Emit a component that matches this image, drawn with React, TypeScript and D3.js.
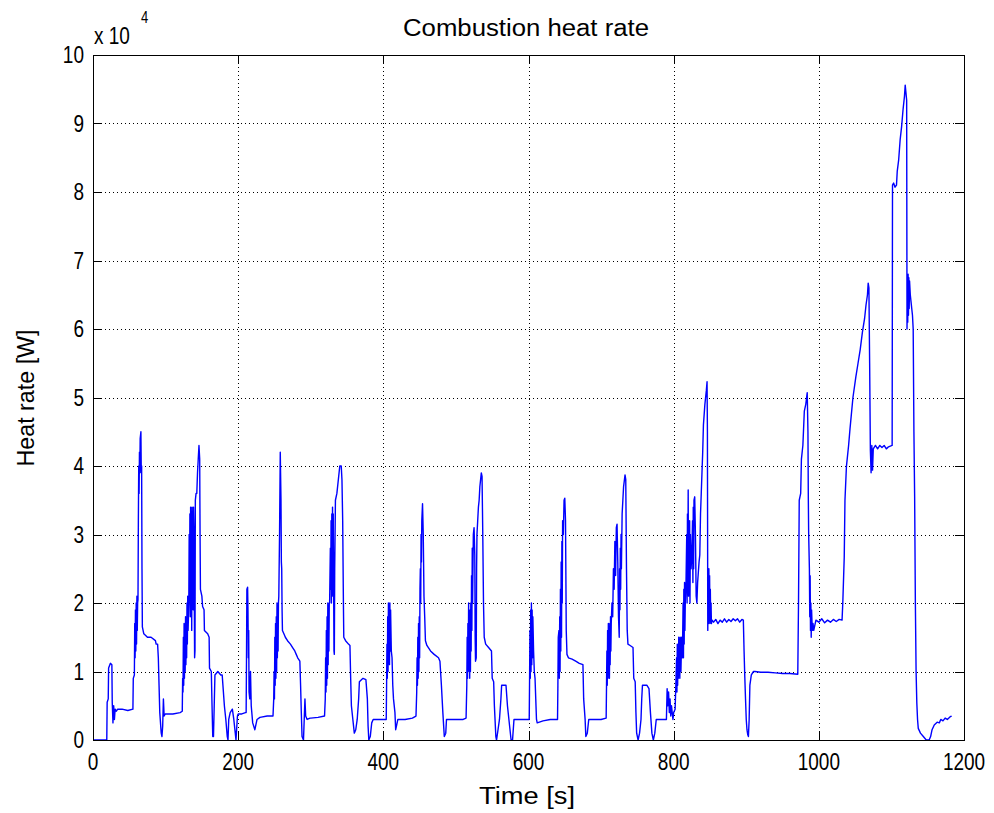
import React from 'react';
import * as d3 from 'd3';

const W = 994;
const H = 813;
const M = { left: 93, top: 55, right: 964, bottom: 740 };

const xTicks = [0, 200, 400, 600, 800, 1000, 1200];
const yTicks = [0, 1, 2, 3, 4, 5, 6, 7, 8, 9, 10];
const titleText = 'Combustion heat rate';
const xLabel = 'Time [s]';
const yLabel = 'Heat rate [W]';

// [time s, heat rate x 1e4 W]
const seg0: [number, number][] = [
  [0, 0], [19, 0], [19.5, 0.55], [21, 0.6], [21.5, 1.05], [24, 1.12], [26, 1.1], [26.5, 0.55], [27.5, 0.25],
  [28.5, 0.5], [29.5, 0.3], [30.5, 0.45], [32, 0.42], [34, 0.45], [40, 0.45], [48, 0.43], [55, 0.45],
  [55.5, 0.9], [57, 0.95], [57.5, 1.7], [58, 1.2], [58.5, 1.9], [59, 1.3], [59.5, 2.0], [60, 1.4], [60.5, 2.1],
  [61, 1.6], [61.5, 2.0], [62, 2.05], [62.5, 3.2], [63, 4.0], [63.5, 3.6], [64, 4.2], [64.5, 3.9], [65, 4.4],
  [66, 4.5], [66.5, 3.9], [67, 4.0], [67.5, 2.5], [68, 1.65], [70, 1.55], [75, 1.5], [80, 1.5], [86, 1.45],
  [87, 1.4], [89, 1.4], [90, 1.2], [91, 0.8], [92, 0.4], [94, 0.1], [95, 0.05], [96, 0.2], [97, 0.6],
  [98, 0.35], [99.5, 0.38],
];
const seg1: [number, number][] = [
  [100, 0.38], [110, 0.38], [120, 0.4], [123, 0.42], [123.5, 0.9], [124, 0.7], [124.5, 1.5], [125, 0.8],
  [125.5, 1.7], [126, 0.9], [126.5, 1.6], [127, 1.0], [127.5, 1.8], [128, 1.1], [128.5, 1.7], [129, 1.2],
  [129.5, 2.0], [130, 1.4], [130.5, 2.1], [131, 1.6], [132, 2.0], [132.5, 3.0], [133, 2.2], [133.5, 3.3],
  [134, 1.8], [134.5, 3.4], [135, 2.0], [135.5, 3.2], [136, 1.6], [136.5, 3.4], [137, 2.2], [137.5, 3.3],
  [138, 1.9], [138.5, 3.4], [139, 3.1], [140, 1.2], [140.5, 1.3], [141, 3.5], [142, 3.6], [143, 3.6],
  [144, 3.9], [145, 4.1], [146, 4.3], [147, 4.1], [147.5, 3.0], [148, 2.2], [150, 2.1], [151, 1.95],
  [153, 1.9], [153.5, 1.6], [158, 1.55], [160, 1.5], [160.5, 1.05], [163, 1.0], [164, 0.5], [165, 0.05],
  [166, 0.05], [167, 0.5], [168, 0.95], [172, 1.0], [176, 0.95], [178, 0.95], [179, 0.8], [181, 0.5],
  [183, 0.3], [185, 0.05], [186, 0.0], [187, 0.3], [189, 0.4], [192, 0.45], [194, 0.3], [196, 0.1],
  [197, 0.0], [199, 0.35],
];
const seg2: [number, number][] = [
  [200, 0.38], [205, 0.38], [210, 0.4], [211, 0.4], [211.5, 1.2], [212, 2.2], [213, 2.23], [213.5, 1.9],
  [214, 1.2], [214.5, 1.6], [215, 0.7], [216, 0.6], [217, 1.0], [218, 0.5], [220, 0.25], [223, 0.15],
  [226, 0.3], [230, 0.33], [240, 0.35], [248, 0.35], [249, 0.6], [249.5, 1.0], [250, 0.6], [250.5, 1.5],
  [251, 0.8], [251.5, 1.7], [252, 0.9], [252.5, 1.8], [253, 1.0], [253.5, 2.0], [254, 1.2], [254.5, 1.9],
  [255, 1.3], [255.5, 2.0], [256, 2.1], [257, 3.0], [258, 4.2], [259, 3.5], [259.5, 2.6], [260, 2.5],
  [260.5, 1.9], [261, 1.6], [263, 1.55], [265, 1.5], [268, 1.45], [272, 1.4], [275, 1.35], [278, 1.3],
  [280, 1.25], [282, 1.2], [285, 1.15], [286, 0.8], [287, 0.4], [288, 0.05], [290, 0.0], [291, 0.3],
  [292, 0.6], [293, 0.35], [295, 0.3], [299, 0.32],
];
const seg3: [number, number][] = [
  [300, 0.32], [310, 0.33], [319, 0.35], [320, 0.6], [320.5, 1.2], [321, 0.7], [321.5, 1.6], [322, 0.8],
  [322.5, 1.8], [323, 0.9], [323.5, 2.0], [324, 1.1], [324.5, 1.9], [325, 1.3], [325.5, 2.0], [326, 2.0],
  [327, 2.8], [327.5, 2.2], [328, 3.2], [328.5, 2.0], [329, 3.3], [329.5, 2.3], [330, 3.4], [330.5, 2.1],
  [331, 3.3], [332, 1.3], [332.5, 1.25], [333, 2.5], [334, 3.5], [336, 3.6], [338, 3.8], [340, 4.0],
  [342, 4.0], [343, 3.8], [344, 3.2], [345, 2.0], [345.5, 1.5], [348, 1.45], [352, 1.4], [354, 1.38],
  [355, 0.9], [356, 0.5], [358, 0.3], [360, 0.1], [362, 0.15], [364, 0.3], [366, 0.6], [367, 0.85],
  [372, 0.9], [376, 0.88], [378, 0.6], [379, 0.2], [380, 0.0], [382, 0.05], [384, 0.25], [386, 0.3],
  [392, 0.3], [399, 0.3],
];
const seg4: [number, number][] = [
  [400, 0.3], [404, 0.3], [404.5, 0.8], [405, 1.4], [405.5, 0.9], [406, 1.8], [406.5, 1.0], [407, 2.0],
  [407.5, 1.2], [408, 1.9], [408.5, 1.1], [409, 2.0], [409.5, 1.3], [410, 1.9], [411, 1.3], [412, 1.2],
  [413, 0.8], [414, 0.6], [416, 0.4], [417, 0.15], [418, 0.2], [420, 0.3], [430, 0.3], [440, 0.32],
  [445, 0.35], [446, 0.7], [446.5, 1.2], [447, 0.8], [447.5, 1.5], [448, 0.9], [448.5, 1.7], [449, 1.0],
  [449.5, 1.8], [450, 1.2], [450.5, 2.2], [451, 2.5], [451.5, 2.0], [452, 3.0], [452.5, 2.6], [453, 3.2],
  [454, 3.45], [455, 3.0], [456, 2.1], [457, 1.8], [458, 1.45], [460, 1.38], [465, 1.3], [470, 1.25],
  [476, 1.2], [478, 1.15], [480, 0.8], [482, 0.4], [484, 0.05], [486, 0.1], [487, 0.3], [495, 0.3],
  [499, 0.3],
];
const seg5: [number, number][] = [
  [500, 0.3], [510, 0.3], [514, 0.32], [515, 0.8], [515.5, 1.5], [516, 0.9], [516.5, 1.7], [517, 1.0],
  [517.5, 2.0], [518, 1.1], [518.5, 1.8], [519, 0.9], [519.5, 1.9], [520, 1.0], [520.5, 2.0], [521, 1.3],
  [521.5, 2.4], [522, 1.6], [522.5, 2.8], [523, 2.0], [524, 3.0], [525, 3.1], [526, 2.7], [526.5, 1.5],
  [527, 1.15], [528, 1.2], [528.5, 2.5], [529, 3.0], [530, 3.2], [531, 3.4], [532, 3.5], [533, 3.7],
  [535, 3.9], [536, 3.85], [537, 3.0], [538, 2.0], [539, 1.5], [541, 1.4], [545, 1.35], [549, 1.3],
  [550, 0.9], [552, 0.85], [553, 0.5], [555, 0.05], [556, 0.0], [558, 0.15], [560, 0.3], [562, 0.6],
  [563, 0.8], [569, 0.8], [571, 0.5], [574, 0.2], [576, 0.0], [578, 0.0], [580, 0.3], [590, 0.3],
  [599, 0.3],
];
const seg6: [number, number][] = [
  [600, 0.3], [601, 0.3], [601.5, 0.9], [602, 1.6], [602.5, 0.9], [603, 1.9], [603.5, 1.0], [604, 2.0],
  [604.5, 1.1], [605, 1.9], [605.5, 1.2], [606, 1.8], [607, 1.3], [608, 1.0], [609, 0.9], [610, 0.6],
  [611, 0.3], [612, 0.25], [620, 0.28], [630, 0.3], [640, 0.3], [640.5, 0.8], [641, 1.5], [642, 1.6],
  [642.5, 0.9], [643, 1.8], [643.5, 1.0], [644, 2.2], [644.5, 1.3], [645, 2.6], [645.5, 1.5], [646, 2.9],
  [646.5, 2.0], [647, 3.2], [648, 3.0], [649, 3.5], [650, 3.53], [651, 3.2], [652, 1.6], [653, 1.25],
  [655, 1.2], [660, 1.18], [665, 1.15], [670, 1.12], [675, 1.1], [676, 0.6], [678, 0.3], [679, 0.05],
  [681, 0.1], [683, 0.3], [690, 0.3], [699, 0.3],
];
const seg7: [number, number][] = [
  [700, 0.3], [707, 0.32], [707.5, 0.8], [708, 1.3], [708.5, 0.8], [709, 1.6], [709.5, 0.9], [710, 1.7],
  [710.5, 1.0], [711, 1.6], [711.5, 0.9], [712, 1.7], [712.5, 1.1], [713, 1.8], [713.5, 1.3], [714, 1.7],
  [715, 2.0], [716, 1.8], [717, 2.5], [718, 2.2], [719, 2.9], [720, 2.4], [721, 3.1], [722, 3.15],
  [723, 2.6], [724, 1.8], [725, 1.5], [725.5, 2.5], [726, 1.9], [726.5, 2.8], [727, 2.2], [727.5, 3.0],
  [728, 2.5], [729, 3.3], [730, 3.5], [731, 3.7], [733, 3.87], [734, 3.8], [735, 2.5], [736, 1.6],
  [737, 1.4], [740, 1.38], [744, 1.35], [745, 0.9], [747, 0.85], [748, 0.4], [749, 0.1], [751, 0.0],
  [753, 0.1], [755, 0.3], [756, 0.6], [757, 0.8], [763, 0.8], [766, 0.75], [768, 0.4], [770, 0.1],
  [772, 0.0], [774, 0.1], [776, 0.3], [785, 0.3], [789, 0.3],
];
const seg8: [number, number][] = [
  [790, 0.3], [791, 0.75], [792, 0.5], [793, 0.7], [794, 0.4], [795, 0.6], [796, 0.35], [797, 0.5],
  [799, 0.3], [800, 0.4], [802, 0.45], [803, 0.8], [804, 1.2], [804.5, 0.7], [805, 1.4], [805.5, 0.8],
  [806, 1.3], [806.5, 0.9], [807, 1.5], [807.5, 1.0], [808, 1.4], [808.5, 0.9], [809, 1.5], [810, 1.0],
  [811, 1.5], [812, 1.2], [813, 2.0], [813.5, 1.2], [814, 2.2], [814.5, 1.4], [815, 2.3], [815.5, 1.6],
  [816, 2.0], [817, 2.3], [818, 3.0], [818.5, 2.0], [819, 3.3], [819.5, 2.2], [820, 3.65], [820.5, 2.1],
  [821, 3.0], [821.5, 2.2], [822, 3.2], [822.5, 2.0], [823, 3.0], [824, 2.5], [825, 2.7], [826, 3.2],
  [826.5, 2.3], [827, 3.4], [827.5, 2.5], [828, 3.5], [829, 3.55], [830, 3.0], [831, 2.1], [832, 2.0],
  [833, 2.3], [835, 2.6], [836, 2.7], [837, 3.3], [838, 3.6], [839, 3.9], [840, 4.2], [841, 4.6],
  [843, 4.9], [845, 5.1], [846, 5.23], [846.5, 4.5], [847, 1.6], [847.5, 2.3], [848, 1.7], [848.5, 2.5],
  [849, 1.8], [849.5, 2.4], [850, 1.7], [850.5, 2.2], [851, 1.75], [851.5, 2.0], [852, 1.7], [853, 1.75],
  [855, 1.72], [858, 1.76], [861, 1.7], [864, 1.75], [867, 1.72], [870, 1.77], [873, 1.72], [876, 1.76],
  [879, 1.73], [882, 1.77], [885, 1.74], [888, 1.77], [891, 1.72], [894, 1.76], [896, 1.75], [897, 1.3],
  [898, 0.92], [899, 0.6], [900, 0.3], [901, 0.15], [902, 0.08], [903, 0.05], [904, 0.3], [905, 0.8],
  [907, 0.95], [910, 1.0],
];
const seg9: [number, number][] = [
  [912, 1.0], [920, 0.99], [930, 0.99], [940, 0.98], [950, 0.97], [960, 0.97], [971, 0.96], [972, 2.0],
  [973, 3.5], [975, 3.6], [976, 4.1], [978, 4.3], [980, 4.8], [982, 4.9], [984, 5.07], [985, 4.5],
  [985.5, 3.55], [986, 3.0], [987, 2.5], [987.5, 1.8], [988, 2.4], [988.5, 1.6], [989, 2.0], [989.5, 1.5],
  [990, 1.9], [991, 1.6], [992, 1.7], [993, 1.6], [996, 1.75], [1000, 1.72], [1004, 1.77], [1008, 1.71],
  [1012, 1.75], [1016, 1.72], [1020, 1.76], [1024, 1.73], [1028, 1.76], [1032, 1.75], [1033, 2.0],
  [1035, 2.67], [1036, 3.5], [1038, 3.99], [1041, 4.3], [1043, 4.55], [1047, 5.0], [1051, 5.3],
  [1054, 5.5], [1057, 5.7], [1060, 5.95], [1063, 6.15], [1065, 6.35], [1067, 6.5], [1068, 6.67],
  [1069, 6.6], [1070, 5.5], [1071, 4.23], [1072, 3.9], [1073, 4.3], [1074, 3.94], [1075, 4.25],
  [1078, 4.3], [1081, 4.25], [1084, 4.3], [1087, 4.27], [1090, 4.3], [1093, 4.25], [1096, 4.28],
  [1101, 4.3],
];
const seg10: [number, number][] = [
  [1101.5, 8.1], [1103, 8.13], [1105, 8.07], [1107, 8.1], [1108, 8.3], [1110, 8.47], [1112, 8.76],
  [1114, 8.95], [1116, 9.2], [1118, 9.4], [1119, 9.56], [1120, 9.45], [1121, 9.34], [1121.5, 6.0],
  [1122, 6.5], [1122.5, 6.1], [1123, 6.8], [1123.5, 6.2], [1124, 6.75], [1124.5, 6.3], [1125, 6.7],
  [1126, 6.5], [1127, 6.4], [1128, 6.3], [1129, 6.2], [1130, 6.0], [1131, 4.5], [1132, 3.55], [1133, 2.0],
  [1134, 1.0], [1135, 0.54], [1136, 0.3], [1137, 0.17], [1140, 0.1], [1144, 0.05], [1148, 0.0],
  [1152, 0.0], [1154, 0.05], [1156, 0.15], [1159, 0.22], [1163, 0.26], [1166, 0.25], [1168, 0.3],
  [1171, 0.28], [1174, 0.32], [1177, 0.3], [1181, 0.34], [1183, 0.35],
];

const samples: [number, number][] = [
  ...seg0, ...seg1, ...seg2, ...seg3, ...seg4, ...seg5, ...seg6, ...seg7, ...seg8, ...seg9, ...seg10,
];

const FONT = '"Liberation Sans", Arial, Helvetica, sans-serif';
const FS = 19;
const SY = 1.3;

export default function App() {
  const x = d3.scaleLinear().domain([0, 1200]).range([M.left, M.right]);
  const y = d3.scaleLinear().domain([0, 10]).range([M.bottom, M.top]);
  const line = d3
    .line<[number, number]>()
    .x((d) => x(d[0]))
    .y((d) => y(d[1]));
  const tick = 9;

  return (
    <div style={{ position: 'absolute', left: 0, top: 0 }}>
      <svg width={W} height={H} style={{ display: 'block', background: '#fff' }}>
        <rect x={0} y={0} width={W} height={H} fill="#fff" />
        {/* grid */}
        <g stroke="#000" strokeWidth={1} strokeDasharray="1 3" fill="none" shapeRendering="crispEdges">
          {xTicks.slice(1, -1).map((t) => (
            <line key={'gx' + t} x1={Math.round(x(t)) + 0.5} x2={Math.round(x(t)) + 0.5} y1={M.top} y2={M.bottom} />
          ))}
          {yTicks.slice(1, -1).map((t) => (
            <line key={'gy' + t} x1={M.left} x2={M.right} y1={Math.round(y(t)) + 0.5} y2={Math.round(y(t)) + 0.5} />
          ))}
        </g>
        {/* data */}
        <path d={line(samples) || ''} fill="none" stroke="#0000ff" strokeWidth={1.4} strokeLinejoin="round" />
        {/* box and ticks */}
        <g stroke="#000" strokeWidth={1} shapeRendering="crispEdges">
          <rect x={M.left + 0.5} y={M.top + 0.5} width={M.right - M.left} height={M.bottom - M.top} fill="none" />
          {xTicks.map((t) => (
            <g key={'tx' + t}>
              <line x1={Math.round(x(t)) + 0.5} x2={Math.round(x(t)) + 0.5} y1={M.bottom} y2={M.bottom - tick} />
              <line x1={Math.round(x(t)) + 0.5} x2={Math.round(x(t)) + 0.5} y1={M.top} y2={M.top + tick} />
            </g>
          ))}
          {yTicks.map((t) => (
            <g key={'ty' + t}>
              <line x1={M.left} x2={M.left + tick} y1={Math.round(y(t)) + 0.5} y2={Math.round(y(t)) + 0.5} />
              <line x1={M.right} x2={M.right - tick} y1={Math.round(y(t)) + 0.5} y2={Math.round(y(t)) + 0.5} />
            </g>
          ))}
        </g>
        {/* tick labels */}
        <g fontFamily={FONT} fontSize={FS} fill="#000">
          {xTicks.map((t) => (
            <text
              key={'lx' + t}
              transform={`translate(${x(t)},${762}) scale(1,${SY})`}
              textAnchor="middle"
              dominantBaseline="central"
            >
              {String(t)}
            </text>
          ))}
          {yTicks.map((t) => (
            <text
              key={'ly' + t}
              transform={`translate(${M.left - 9},${y(t)}) scale(1,${SY})`}
              textAnchor="end"
              dominantBaseline="central"
            >
              {String(t)}
            </text>
          ))}
          <text transform={`translate(94,36) scale(1,${SY})`} dominantBaseline="central">
            x 10
          </text>
          <text transform={`translate(141,17) scale(1,${SY})`} dominantBaseline="central" fontSize={13}>
            4
          </text>
          <text
            transform={`translate(526,28) scale(1,${SY})`}
            textAnchor="middle"
            dominantBaseline="central"
            textLength={246}
            lengthAdjust="spacingAndGlyphs"
          >
            {titleText}
          </text>
          <text
            transform={`translate(527,796) scale(1,${SY})`}
            textAnchor="middle"
            dominantBaseline="central"
            textLength={96}
            lengthAdjust="spacingAndGlyphs"
          >
            {xLabel}
          </text>
          <text
            transform={`translate(26,398) rotate(-90) scale(1,${SY})`}
            textAnchor="middle"
            dominantBaseline="central"
            textLength={137}
            lengthAdjust="spacingAndGlyphs"
          >
            {yLabel}
          </text>
        </g>
      </svg>
    </div>
  );
}
